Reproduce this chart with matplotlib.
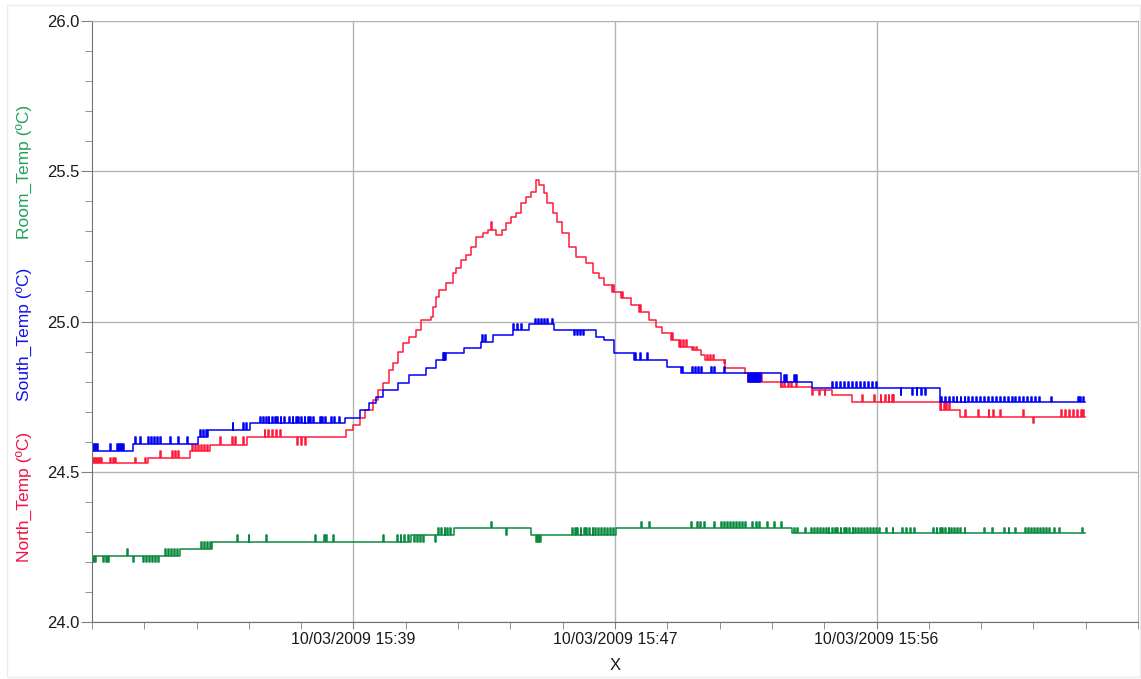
import numpy as np
import matplotlib
matplotlib.use('Agg')
import matplotlib.pyplot as plt
from matplotlib.ticker import FixedLocator, MultipleLocator, FormatStrFormatter
from matplotlib.patches import Rectangle

plt.rcParams['font.family'] = ['Liberation Sans', 'DejaVu Sans']

# x is minutes after 15:30:40, one major division is 8.5 min
x_ticks = [8.5, 17.0, 25.5]
x_tick_labels = ['10/03/2009 15:39', '10/03/2009 15:47', '10/03/2009 15:56']
t_end = 32.28

# North_Temp: level changes (minute, degC)
north_t = [0.00, 1.82, 3.18, 3.83, 5.03, 8.27, 8.47, 8.70, 8.86, 9.13, 9.29, 9.45, 9.67, 9.78,
           9.94, 10.10, 10.32, 10.54, 10.70, 11.02, 11.07, 11.18, 11.29, 11.51, 11.72, 11.83,
           12.00, 12.16, 12.32, 12.48, 12.70, 12.86, 13.13, 13.34, 13.45, 13.62, 13.78, 13.94,
           14.10, 14.27, 14.43, 14.54, 14.70, 14.80, 14.97, 15.13, 15.29, 15.51, 15.73, 16.05,
           16.27, 16.48, 16.64, 16.91, 17.19, 17.51, 17.78, 18.10, 18.32, 18.53, 18.81, 19.08,
           19.51, 19.78, 19.94, 20.54, 20.59, 21.24, 21.78, 22.38, 23.40, 24.05, 24.70, 27.57,
           28.22]
north_v = [24.528, 24.545, 24.569, 24.589, 24.615, 24.639, 24.656, 24.678, 24.705, 24.739,
           24.772, 24.794, 24.839, 24.861, 24.899, 24.927, 24.949, 24.972, 25.005, 25.016,
           25.049, 25.083, 25.105, 25.127, 25.160, 25.177, 25.205, 25.221, 25.249, 25.282,
           25.293, 25.304, 25.288, 25.304, 25.327, 25.349, 25.360, 25.393, 25.415, 25.432,
           25.471, 25.454, 25.427, 25.393, 25.360, 25.332, 25.293, 25.249, 25.216, 25.194,
           25.160, 25.144, 25.121, 25.099, 25.077, 25.055, 25.033, 25.005, 24.983, 24.961,
           24.939, 24.916, 24.905, 24.889, 24.872, 24.861, 24.844, 24.828, 24.800, 24.783,
           24.772, 24.755, 24.733, 24.705, 24.683]
# single-sample flicker: (level, minutes)
north_spikes = [
    (24.545, [0.03, 0.10, 0.16, 0.23, 0.29, 0.58, 0.68, 0.75, 1.40, 1.72]),
    (24.569, [2.21, 2.60, 2.69, 2.79]),
    (24.589, [3.24, 3.34, 3.44, 3.54, 3.63, 3.73]),
    (24.615, [4.15, 4.54, 4.64, 4.90]),
    (24.639, [5.61, 5.71, 5.84, 5.97, 6.10]),
    (24.589, [6.68, 6.81, 6.94]),
    (25.332, [12.97]),
    (25.121, [16.93]),
    (25.099, [17.22]),
    (25.055, [17.80]),
    (24.961, [18.85]),
    (24.939, [19.12, 19.22, 19.30]),
    (24.916, [19.55, 19.62]),
    (24.889, [20.00, 20.10, 20.20]),
    (24.872, [20.58]),
    (24.800, [21.32, 21.40, 21.48, 21.56, 21.64]),
    (24.800, [22.39, 22.49, 22.62, 22.71, 22.88]),
    (24.755, [23.40, 23.62, 23.81]),
    (24.755, [25.02, 25.41, 25.63, 25.79, 25.89, 25.99, 26.05]),
    (24.733, [27.58, 27.68, 27.77, 27.87]),
    (24.705, [28.38, 28.81, 29.14, 29.30, 29.52, 30.27, 31.51, 31.64, 31.77, 31.90, 32.03,
              32.15, 32.22]),
    (24.661, [30.60]),
]

# South_Temp
south_t = [0.00, 1.33, 3.44, 3.76, 5.13, 8.21, 8.70, 9.02, 9.24, 9.45, 9.94, 10.32, 10.86,
           11.18, 11.51, 12.10, 12.64, 13.02, 13.67, 14.21, 15.02, 16.37, 16.64, 16.97, 17.62,
           18.70, 19.14, 22.38, 23.40, 27.57]
south_v = [24.569, 24.591, 24.615, 24.639, 24.663, 24.678, 24.705, 24.728, 24.750, 24.772,
           24.794, 24.822, 24.844, 24.872, 24.894, 24.911, 24.933, 24.955, 24.972, 24.992,
           24.972, 24.949, 24.939, 24.894, 24.872, 24.850, 24.828, 24.800, 24.778, 24.733]
south_spikes = [
    (24.591, [0.03, 0.10, 0.16, 0.58, 0.81, 0.88, 0.94, 1.01]),
    (24.615, [1.40, 1.56, 1.82, 1.91, 2.01, 2.11, 2.21, 2.53, 2.79, 3.08]),
    (24.639, [3.50, 3.60, 3.70]),
    (24.663, [4.57, 4.90, 5.00]),
    (24.683, [5.45, 5.55, 5.65, 5.74, 5.84, 5.94, 6.03, 6.13, 6.23, 6.42, 6.52, 6.62, 6.71,
              6.81, 6.91, 7.01, 7.10, 7.20, 7.40, 7.49, 7.59, 7.78, 7.88, 8.04]),
    (24.894, [11.40, 11.45]),
    (24.955, [12.69, 12.78]),
    (24.992, [13.69, 13.82, 13.95]),
    (25.008, [14.41, 14.50, 14.60, 14.70, 14.80, 14.96]),
    (24.955, [15.67, 15.77, 15.87, 15.96]),
    (24.894, [17.66, 17.82, 18.04]),
    (24.850, [19.18, 19.50, 19.60, 19.69, 19.79, 20.12, 20.21, 20.54]),
    (24.800, [21.32, 21.38, 21.45, 21.51, 21.58, 21.64, 21.71]),
    (24.822, [22.49, 22.55, 22.81, 22.87]),
    (24.800, [24.05, 24.18, 24.31, 24.44, 24.57, 24.70, 24.83, 24.96, 25.09, 25.22, 25.35,
              25.48]),
    (24.755, [26.28, 26.64, 26.80, 26.96, 27.09]),
    (24.750, [27.60, 27.72, 27.85, 27.98, 28.10, 28.23, 28.36, 28.48, 28.61, 28.74, 28.87,
              28.99, 29.12, 29.25, 29.38, 29.50, 29.63, 29.76, 29.89, 30.01, 30.14, 30.27,
              30.40, 30.52, 30.65, 30.78, 31.18, 32.05, 32.12, 32.20]),
]

# Room_Temp
room_t = [0.00, 2.86, 3.89, 10.38, 11.78, 14.28, 17.04, 22.74]
room_v = [24.221, 24.242, 24.267, 24.290, 24.314, 24.290, 24.314, 24.296]
room_spikes = [
    (24.200, [0.03, 0.10, 0.36, 0.45, 0.52, 1.33, 1.65, 1.75, 1.85, 1.95, 2.04, 2.14]),
    (24.242, [1.14, 2.37, 2.47, 2.56, 2.66, 2.76]),
    (24.267, [3.54, 3.63, 3.73, 3.83]),
    (24.290, [4.73, 5.09, 5.65, 7.24, 7.53, 7.62, 7.84, 9.46, 9.93, 10.03, 10.13, 10.26]),
    (24.267, [10.48, 10.58, 10.67, 10.77, 11.16]),
    (24.314, [11.26, 11.36, 11.46, 11.55, 11.65]),
    (24.334, [12.98]),
    (24.290, [13.47]),
    (24.267, [14.44, 14.50, 14.57]),
    (24.314, [15.59, 15.69, 15.78, 15.88, 15.98, 16.07, 16.17, 16.27, 16.36, 16.46, 16.56,
              16.65, 16.75, 16.85, 16.94]),
    (24.334, [17.84, 18.10, 19.46, 19.66, 19.76, 19.89, 20.21, 20.44, 20.54, 20.64, 20.73,
              20.83, 20.93, 21.03, 21.12, 21.24, 21.45, 21.58, 21.67, 21.93, 22.16, 22.41]),
    (24.314, [22.81, 22.91, 23.19, 23.36, 23.46, 23.56, 23.65, 23.75, 23.85, 23.94, 24.04,
              24.14, 24.23, 24.33, 24.43, 24.52, 24.62, 24.72, 24.81, 24.91, 25.01, 25.10,
              25.20, 25.30, 25.39, 25.49, 25.59, 25.80, 26.02, 26.33, 26.46, 26.59, 26.72,
              27.35, 27.45, 27.55, 27.64, 27.74, 27.84, 27.93, 28.03, 28.13, 28.22, 28.36,
              28.98, 29.25, 29.63, 29.79, 29.99, 30.33, 30.43, 30.53, 30.62, 30.72, 30.82,
              30.91, 31.01, 31.12, 31.28, 31.44, 32.18]),
]


def build(st, sv, spikes, w=0.03):
    """merge level changes and one-sample spikes into a steps-post series"""
    st = np.asarray(st)
    sv = np.asarray(sv)
    t = list(st)
    v = list(sv)
    for level, times in spikes:
        for ts in times:
            back = sv[np.searchsorted(st, ts + w, side='right') - 1]
            t += [ts, ts + w]
            v += [level, back]
    t.append(t_end)
    v.append(sv[-1])
    t = np.asarray(t)
    v = np.asarray(v)
    order = np.argsort(t, kind='stable')
    return t[order], v[order]


fig = plt.figure(figsize=(11.41, 6.79), dpi=100)
ax = fig.add_axes([0.0806, 0.0839, 0.9168, 0.8852])

series = [(north_t, north_v, north_spikes, '#FF1A3C'),
          (south_t, south_v, south_spikes, '#0000F5'),
          (room_t, room_v, room_spikes, '#0A8A3E')]
for st, sv, sp, col in series:
    tt, vv = build(st, sv, sp)
    ax.plot(tt, vv, drawstyle='steps-post', color=col, lw=1.1)

ax.set_xlim(0, 34)
ax.set_ylim(24.0, 26.0)

ax.xaxis.set_major_locator(FixedLocator(x_ticks))
ax.set_xticklabels(x_tick_labels)
ax.xaxis.set_minor_locator(FixedLocator([i * 1.7 for i in range(21)]))
ax.yaxis.set_major_locator(MultipleLocator(0.5))
ax.yaxis.set_minor_locator(MultipleLocator(0.1))
ax.yaxis.set_major_formatter(FormatStrFormatter('%.1f'))

ax.grid(True, which='major', color='#B4B4B4', lw=1.0)
ax.tick_params(axis='both', which='both', direction='out', color='#808080')
ax.tick_params(axis='y', which='major', length=8, labelsize=12, labelcolor='#1A1A1A', pad=1)
ax.tick_params(axis='y', which='minor', length=5)
ax.tick_params(axis='x', which='both', length=5, labelsize=11.5, labelcolor='#1A1A1A', pad=2)

for side in ['left', 'bottom']:
    ax.spines[side].set_color('#707070')
for side in ['top', 'right']:
    ax.spines[side].set_color('#B4B4B4')

ax.set_xlabel('X', fontsize=12, color='#1A1A1A', labelpad=8)

fig.text(0.0215, 0.2688, 'North_Temp (ºC)', rotation=90, ha='center', va='center',
         fontsize=12.5, color='#F01444')
fig.text(0.0215, 0.5081, 'South_Temp (ºC)', rotation=90, ha='center', va='center',
         fontsize=12.5, color='#1414E6')
fig.text(0.0215, 0.7474, 'Room_Temp (ºC)', rotation=90, ha='center', va='center',
         fontsize=12.5, color='#22A05C')

fig.patches.append(Rectangle((0.006, 0.003), 0.993, 0.99, transform=fig.transFigure,
                             fill=False, edgecolor='#ECECEC', lw=1.0))

fig.savefig('out.png', dpi=100)
